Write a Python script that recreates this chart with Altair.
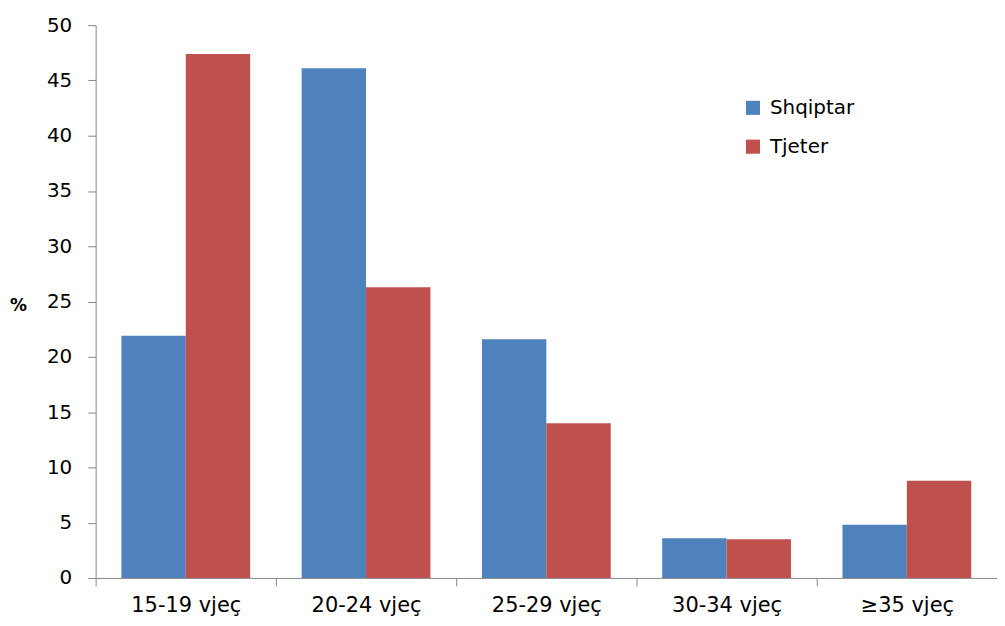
import altair as alt
import pandas as pd

categories = ["15-19 vjeç", "20-24 vjeç", "25-29 vjeç", "30-34 vjeç", "≥35 vjeç"]
series = ["Shqiptar", "Tjeter"]
shqiptar = [21.9, 46.1, 21.6, 3.6, 4.8]
tjeter = [47.4, 26.3, 14.0, 3.5, 8.8]
colors = ["#4F81BD", "#C0504D"]

rows = []
for c, a, b in zip(categories, shqiptar, tjeter):
    rows.append({"cat": c, "series": "Shqiptar", "value": a})
    rows.append({"cat": c, "series": "Tjeter", "value": b})
df = pd.DataFrame(rows)

FONT = "DejaVu Sans"
AX = "#868686"

chart = alt.Chart(df).mark_bar().encode(
    x=alt.X("cat:N", sort=categories, title=None,
            scale=alt.Scale(paddingInner=0, paddingOuter=0),
            axis=alt.Axis(labelAngle=0, labelFontSize=21, labelFont=FONT, labelColor="#000",
                          domainColor=AX, tickColor=AX, tickSize=8, tickBand="extent",
                          labelPadding=9)),
    xOffset=alt.XOffset("series:N", sort=series,
                        scale=alt.Scale(paddingInner=0, paddingOuter=0.4)),
    y=alt.Y("value:Q", title="%",
            scale=alt.Scale(domain=[0, 50], nice=False),
            axis=alt.Axis(values=list(range(0, 51, 5)), grid=False, labelFontSize=20,
                          labelFont=FONT, labelColor="#000", domainColor=AX, tickColor=AX,
                          tickSize=8, labelPadding=16, titleAngle=0, titleFontSize=17,
                          titleFont=FONT, titleFontWeight="bold", titleX=-78, titleY=281,
                          titleAlign="center", titleBaseline="middle")),
    color=alt.Color("series:N", sort=series, title=None,
                    scale=alt.Scale(domain=series, range=colors),
                    legend=alt.Legend(orient="none", legendX=650, legendY=73,
                                      symbolType="square", symbolSize=200, symbolStrokeWidth=0,
                                      labelFontSize=20, labelFont=FONT, labelColor="#000",
                                      rowPadding=19, labelOffset=7)),
).properties(
    width=905, height=555,
    autosize=alt.AutoSizeParams(type="none"),
    padding={"left": 88, "top": 16, "right": 0, "bottom": 40},
).configure_view(stroke=None)

chart.save("out.html", embed_options={"renderer": "svg", "actions": False})
